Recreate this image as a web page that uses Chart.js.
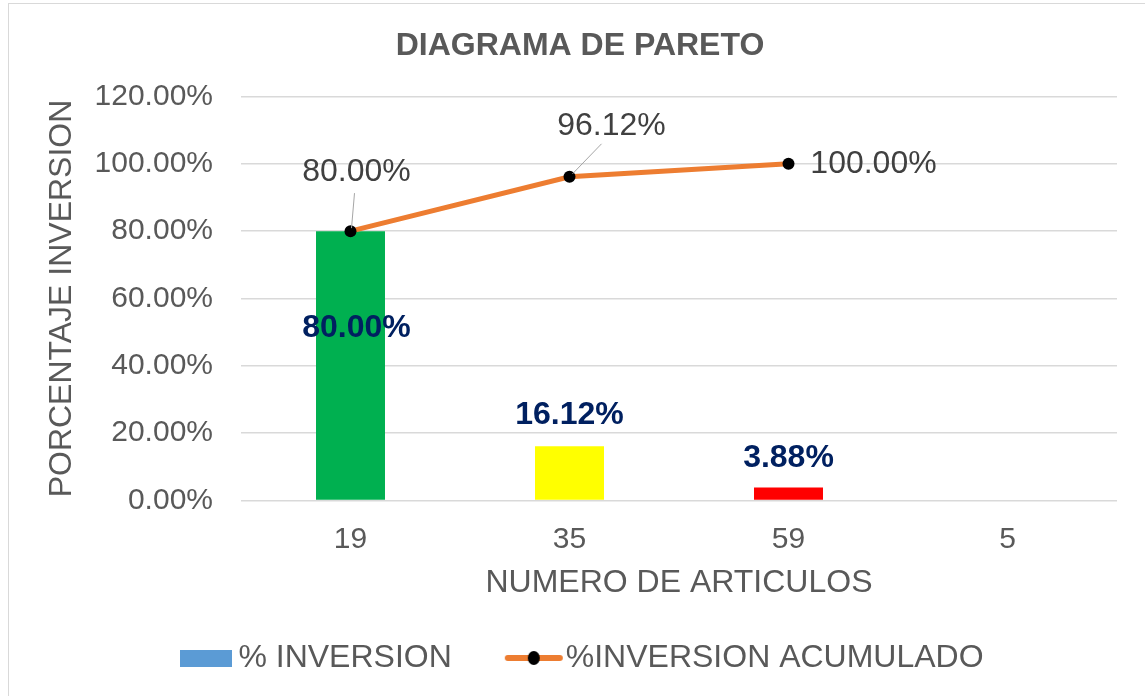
<!DOCTYPE html>
<html>
<head>
<meta charset="utf-8">
<script src="https://cdn.jsdelivr.net/npm/chart.js@4/dist/chart.umd.min.js"></script>
<style>
html, body { margin: 0; padding: 0; background: #fff; }
#wrap { width: 1145px; height: 696px; position: relative; }
</style>
</head>
<body>
<div id="wrap"><canvas id="pareto" width="1145" height="696"></canvas></div>
<script>
// datos del diagrama
const articulos = ['19', '35', '59', '5'];
const pctInversion = [80.00, 16.12, 3.88, 0];
const pctAcumulado = [80.00, 96.12, 100.00, null];
const coloresBarras = ['#00B050', '#FFFF00', '#FF0000', '#5B9BD5'];
const ticksY = [0, 20, 40, 60, 80, 100, 120];

const gris = '#595959';
const fuente = 'Liberation Sans, Arial, sans-serif';

function fmt(v) {
    return v.toFixed(2) + '%';
}

// iconos de la leyenda
function iconoBarra() {
    var c = document.createElement('canvas');
    c.width = 52; c.height = 17;
    var ctx = c.getContext('2d');
    ctx.fillStyle = '#5B9BD5';
    ctx.fillRect(0, 0, 52, 17);
    return c;
}
function iconoLinea() {
    var c = document.createElement('canvas');
    c.width = 60; c.height = 16;
    var ctx = c.getContext('2d');
    ctx.strokeStyle = '#ED7D31';
    ctx.lineWidth = 6;
    ctx.lineCap = 'round';
    ctx.beginPath(); ctx.moveTo(4, 8); ctx.lineTo(56, 8); ctx.stroke();
    ctx.fillStyle = '#000';
    ctx.beginPath(); ctx.ellipse(30, 8, 6, 7, 0, 0, Math.PI * 2); ctx.fill();
    return c;
}

const marco = {
    id: 'marco',
    afterLayout(chart) {
        // la leyenda queda un poco a la izquierda
        chart.legend.left += 7;
        chart.legend.right += 7;
    },
    beforeDraw(chart) {
        var ctx = chart.ctx;
        ctx.save();
        ctx.fillStyle = '#fff';
        ctx.fillRect(0, 0, chart.width, chart.height);
        ctx.strokeStyle = '#d9d9d9';
        ctx.lineWidth = 1;
        ctx.strokeRect(8.5, 3.5, 1200, 760);
        ctx.restore();
    }
};

const etiquetas = {
    id: 'etiquetas',
    afterDatasetsDraw(chart) {
        var ctx = chart.ctx;
        var y = chart.scales.y;
        ctx.save();
        ctx.textAlign = 'center';
        ctx.textBaseline = 'middle';

        // etiquetas de las barras
        var offBarra = [97, -31, -29, 0];
        ctx.font = 'bold 32px ' + fuente;
        ctx.fillStyle = '#002060';
        var barras = chart.getDatasetMeta(0).data;
        pctInversion.forEach(function (v, i) {
            if (!v) return;
            var px = barras[i].x + (i === 0 ? 6 : 0);
            ctx.fillText(fmt(v), px, y.getPixelForValue(v) + offBarra[i]);
        });

        // etiquetas de la linea
        var puntos = chart.getDatasetMeta(1).data;
        ctx.font = '32px ' + fuente;
        ctx.fillStyle = '#404040';
        ctx.strokeStyle = '#a6a6a6';
        ctx.lineWidth = 1;
        var off = [[6, -59], [42, -51], [85, 0]];
        var lider = [[[1, -3], [4, -38]], [[3, -3], [32, -33]], null];
        pctAcumulado.forEach(function (v, i) {
            if (v === null) return;
            var p = puntos[i];
            if (lider[i]) {
                ctx.beginPath();
                ctx.moveTo(p.x + lider[i][0][0], p.y + lider[i][0][1]);
                ctx.lineTo(p.x + lider[i][1][0], p.y + lider[i][1][1]);
                ctx.stroke();
            }
            ctx.fillText(fmt(v), p.x + off[i][0], p.y + off[i][1]);
        });
        ctx.restore();
    }
};

new Chart(document.getElementById('pareto'), {
    type: 'bar',
    data: {
        labels: articulos,
        datasets: [{
                type: 'bar',
                label: '% INVERSION',
                data: pctInversion,
                backgroundColor: coloresBarras,
                borderWidth: 0,
                barPercentage: 0.63,
                categoryPercentage: 0.5,
                order: 1
            }, {
                type: 'line',
                label: '%INVERSION ACUMULADO',
                data: pctAcumulado,
                borderColor: '#ED7D31',
                borderWidth: 5,
                pointRadius: 6,
                pointBackgroundColor: '#000',
                pointBorderColor: '#000',
                pointBorderWidth: 0,
                tension: 0,
                spanGaps: false,
                order: 0
            }]
    },
    options: {
        responsive: false,
        animation: false,
        layout: {
            padding: {left: 43, right: 28, top: 5, bottom: 12}
        },
        scales: {
            x: {
                grid: {display: false, drawTicks: false},
                border: {display: false},
                ticks: {color: gris, font: {size: 30, family: fuente}, padding: 21},
                title: {display: true, text: 'NUMERO DE ARTICULOS', color: gris,
                    font: {size: 32, family: fuente}, padding: {top: -15, bottom: -26}}
            },
            y: {
                min: 0,
                max: 120,
                afterBuildTicks: function (scale) {
                    scale.ticks = ticksY.map(function (v) { return {value: v}; });
                },
                afterFit: function (scale) {
                    scale.width = 198;
                },
                grid: {color: '#d9d9d9', lineWidth: 1.5, drawTicks: false},
                border: {display: false},
                ticks: {color: gris, font: {size: 30, family: fuente}, padding: 28,
                    callback: function (v) { return fmt(v); }},
                title: {display: true, text: 'PORCENTAJE INVERSION', color: gris,
                    font: {size: 32, family: fuente}, padding: 0}
            }
        },
        plugins: {
            title: {
                display: true,
                text: 'DIAGRAMA DE PARETO',
                color: gris,
                font: {size: 32, weight: 'bold', family: fuente},
                padding: {top: 22, bottom: 31}
            },
            legend: {
                position: 'bottom',
                labels: {
                    color: gris,
                    font: {size: 32, family: fuente},
                    usePointStyle: true,
                    pointStyleWidth: 32,
                    padding: 66,
                    generateLabels: function (chart) {
                        return [
                            {text: '% INVERSION', pointStyle: iconoBarra(), fontColor: gris, datasetIndex: 0, lineWidth: 0},
                            {text: '%INVERSION ACUMULADO', pointStyle: iconoLinea(), fontColor: gris, datasetIndex: 1, lineWidth: 0}
                        ];
                    }
                }
            },
            tooltip: {enabled: false}
        }
    },
    plugins: [marco, etiquetas]
});
</script>
</body>
</html>
